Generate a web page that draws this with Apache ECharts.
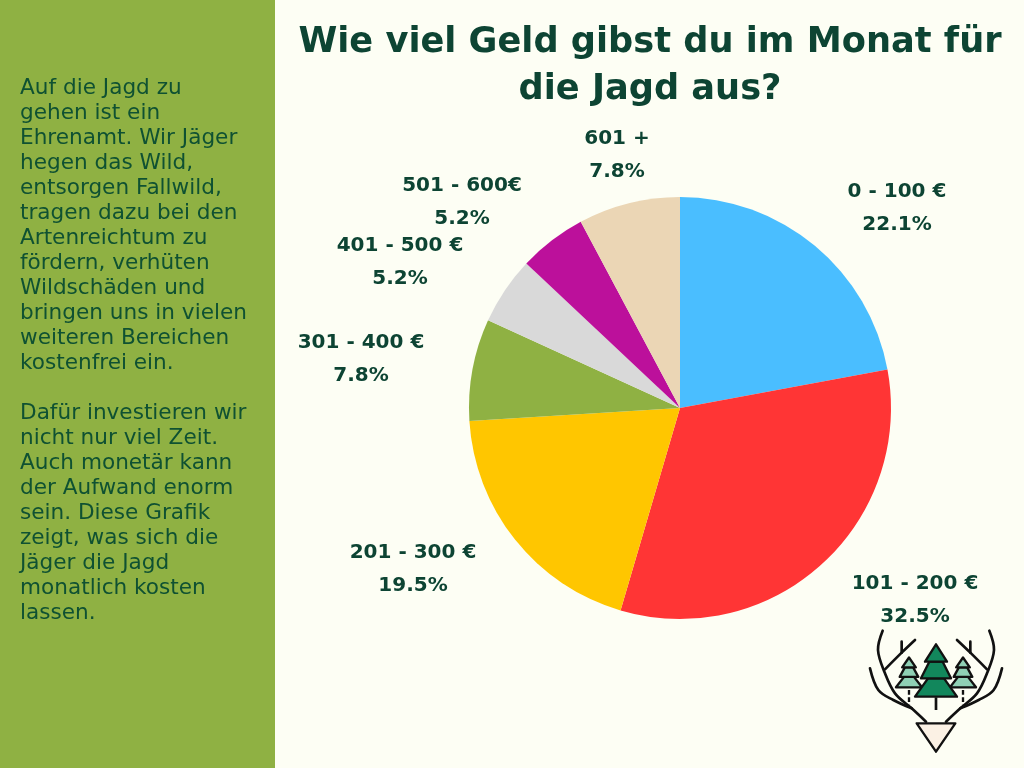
<!DOCTYPE html>
<html><head><meta charset="utf-8">
<style>html,body{margin:0;padding:0;background:#FDFEF4}#c{width:1024px;height:768px}</style>
<script src="https://cdn.jsdelivr.net/npm/echarts@6/dist/echarts.min.js"></script>
</head><body><div id="c"></div>
<script>
const categories = ['0 - 100 €','101 - 200 €','201 - 300 €','301 - 400 €','401 - 500 €','501 - 600€','601 +'];
const shares = [22.1,32.5,19.5,7.8,5.2,5.2,7.8];
const sliceColors = ['#4ABEFF','#FF3535','#FFC600','#8FB143','#D9D9D9','#BC109B','#EBD6B5'];
const titleText = 'Wie viel Geld gibst du im Monat für\ndie Jagd aus?';
const sideLines = ['Auf die Jagd zu','gehen ist ein','Ehrenamt. Wir Jäger','hegen das Wild,','entsorgen Fallwild,','tragen dazu bei den','Artenreichtum zu','fördern, verhüten','Wildschäden und','bringen uns in vielen','weiteren Bereichen','kostenfrei ein.','','Dafür investieren wir','nicht nur viel Zeit.','Auch monetär kann','der Aufwand enorm','sein. Diese Grafik','zeigt, was sich die','Jäger die Jagd','monatlich kosten','lassen.'];
const labelCenters = [[897,208],[915,600],[413,569],[361,359],[400,262],[462,202],[617,155]];

const INK='#0D4433', FONT='"DejaVu Sans"';
const line=pts=>({type:'polyline',shape:{points:pts,smooth:0.35},style:{stroke:'#111',lineWidth:8,fill:null,lineCap:'round',lineJoin:'round'}});
const poly=(pts,fill)=>({type:'polygon',shape:{points:pts},style:{fill,stroke:'#111',lineWidth:7,lineJoin:'round'}});
const mirror=p=>p.map(([x,y])=>[516-x,y]);
const antlers=[
 [[98,62],[84,120],[105,190],[135,250],[185,295],[228,335]],
 [[105,178],[155,128],[195,90]],
 [[155,95],[155,128]],
 [[60,175],[85,240],[130,270],[185,295]]
];
const tiers=[
 [[-24,-55],[-63,0],[63,0],[24,-55]],
 [[-20,-105],[-45,-55],[45,-55],[20,-105]],
 [[-33,-105],[0,-157],[33,-105]]
];
const tree=(cx,base,sx,sy,fill)=>tiers.map(t=>poly(t.map(([x,y])=>[cx+x*sx,base+y*sy]),fill));
const logo=[
 ...antlers.map(line),...antlers.map(a=>line(mirror(a))),
 {type:'line',shape:{x1:177,y1:240,x2:177,y2:285},style:{stroke:'#111',lineWidth:7,lineDash:[14,8]}},
 {type:'line',shape:{x1:339,y1:240,x2:339,y2:285},style:{stroke:'#111',lineWidth:7,lineDash:[14,8]}},
 ...tree(177,232,0.62,0.57,'#8FD0B5'),...tree(339,232,0.62,0.57,'#8FD0B5'),
 {type:'line',shape:{x1:258,y1:262,x2:258,y2:300},style:{stroke:'#111',lineWidth:8}},
 ...tree(258,260,1,1,'#12875C'),
 poly([[200,340],[316,340],[258,425]],'#FBF1E4')
];

const chart=echarts.init(document.getElementById('c'),null,{renderer:'canvas'});
chart.setOption({
 animation:false,
 backgroundColor:'#FDFEF4',
 title:{text:titleText,left:645,top:14,textAlign:'center',
  textStyle:{fontFamily:FONT,fontWeight:'bold',fontSize:35.2,lineHeight:47,color:INK}},
 graphic:[
  {type:'rect',z:-1,shape:{x:0,y:0,width:275,height:768},style:{fill:'#8FB143'}},
  {type:'text',left:20,top:76,style:{text:sideLines.join('\n'),fontFamily:FONT,fontSize:21.6,lineHeight:25,fill:'#0F5132'}},
  {type:'group',x:850,y:610,scaleX:1/3,scaleY:1/3,children:logo}
 ],
 series:[{
  type:'pie',center:[680,408],radius:211,startAngle:90,clockwise:true,
  data:categories.map((name,i)=>({name,value:shares[i],itemStyle:{color:sliceColors[i]}})),
  label:{show:true,position:'outside',formatter:p=>p.name+'\n'+p.value+'%',align:'center',
   fontFamily:FONT,fontWeight:'bold',fontSize:20,lineHeight:33,color:INK},
  labelLine:{show:false},
  labelLayout:p=>({x:labelCenters[p.dataIndex][0],y:labelCenters[p.dataIndex][1],align:'center',verticalAlign:'middle'}),
  emphasis:{disabled:true}
 }]
});
</script></body></html>
